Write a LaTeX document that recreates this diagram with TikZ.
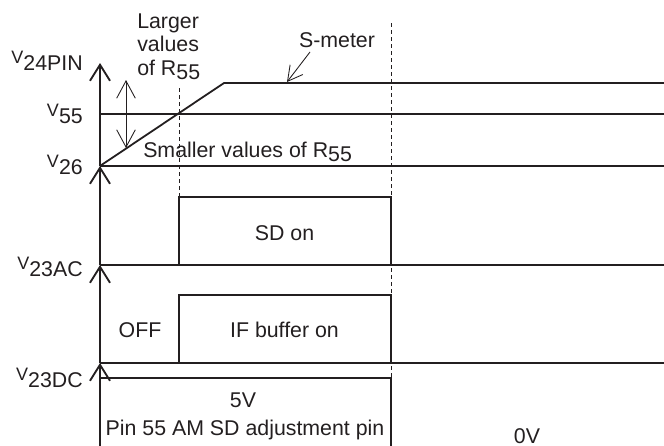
\documentclass[tikz,border=0pt]{standalone}
\usepackage{fontspec}
\setmainfont{Liberation Sans}
\usetikzlibrary{arrows.meta}
\newcommand{\vlab}[1]{{\fontsize{13.5}{14}\selectfont V}\raisebox{-5.6pt}{#1}}
\newcommand{\rsub}{R\raisebox{-3pt}{55}}
\definecolor{ink}{HTML}{231F20}
\begin{document}
\begin{tikzpicture}[x=0.75pt,y=-0.75pt, color=ink,
  sig/.style={line width=1.35pt, line cap=butt, line join=miter},
  axisarr/.style={line width=1.4pt, -{Straight Barb[length=12pt,width=15pt]}},
  dblarr/.style={line width=0.65pt, {Straight Barb[length=13pt,width=14pt]}-{Straight Barb[length=13pt,width=14pt]}},
  ptrarr/.style={line width=0.65pt, -{Straight Barb[length=11pt,width=12pt]}},
  dashline/.style={line width=0.65pt, dash pattern=on 3pt off 2.25pt},
  txt/.style={font=\fontsize{16}{19}\selectfont, inner sep=0pt, text=ink},
]
\useasboundingbox (0,0) rectangle (664,446);

% axis points
\coordinate (ax0) at (100,446);
\coordinate (ax1) at (100,363);
\coordinate (ax2) at (100,265);
\coordinate (ax3) at (100,166);
\coordinate (ax4) at (100,63);

% dashed guides
\coordinate (dl0) at (179,88);
\coordinate (dl1) at (179,197);
\coordinate (dr0) at (391,23);
\coordinate (dr1) at (391,378);
\draw[dashline] (dl0) -- (dl1);
\draw[dashline] (dr0) -- (dr1);

% axis with arrows
\draw[axisarr] (ax0) -- (ax1);
\draw[axisarr] (ax1) -- (ax2);
\draw[axisarr] (ax2) -- (ax3);
\draw[axisarr] (ax3) -- (ax4);

% S-meter ramp and levels
\coordinate (knee) at (224,83);
\coordinate (smE) at (664,83);
\coordinate (v55W) at (100,114);
\coordinate (v55E) at (664,114);
\coordinate (v26E) at (664,166);
\draw[sig] (ax3) -- (knee) -- (smE);
\draw[sig] (v55W) -- (v55E);
\draw[sig] (ax3) -- (v26E);

% SD on pulse
\coordinate (sdA) at (179,265);
\coordinate (sdB) at (179,197);
\coordinate (sdC) at (391,197);
\coordinate (sdD) at (391,265);
\coordinate (acE) at (664,265);
\draw[sig] (ax2) -- (acE);
\draw[sig] (sdA) -- (sdB) -- (sdC) -- (sdD);

% IF buffer pulse
\coordinate (ifA) at (179,363);
\coordinate (ifB) at (179,295);
\coordinate (ifC) at (391,295);
\coordinate (ifD) at (391,363);
\coordinate (dcE) at (664,363);
\draw[sig] (ax1) -- (dcE);
\draw[sig] (ifA) -- (ifB) -- (ifC) -- (ifD);

% 5V level
\coordinate (fvA) at (100,378);
\coordinate (fvB) at (391,378);
\coordinate (fvC) at (391,446);
\draw[sig] (fvA) -- (fvB) -- (fvC);

% R55 double arrow
\coordinate (daT) at (126,80);
\coordinate (daB) at (126,148);
\draw[dblarr] (daT) -- (daB);

% S-meter pointer
\coordinate (spS) at (310,52);
\coordinate (spE) at (287,82);
\draw[ptrarr] (spS) -- (spE);

% axis labels
\node[txt, anchor=base east] (l24) at (83,63.5) {\vlab{24PIN}};
\node[txt, anchor=base east] (l55) at (83,116) {\vlab{55}};
\node[txt, anchor=base east] (l26) at (83,167) {\vlab{26}};
\node[txt, anchor=base east] (l23ac) at (83,269.5) {\vlab{23AC}};
\node[txt, anchor=base east] (l23dc) at (83,380) {\vlab{23DC}};

% texts
\node[txt, anchor=base west] (larger) at (137,28) {Larger};
\node[txt, anchor=base west] (values) at (137,51.5) {values};
\node[txt, anchor=base west] (ofr) at (137,75) {of \rsub};
\node[txt, anchor=base] (smeter) at (337,47) {S-meter};
\node[txt, anchor=base west] (smaller) at (143,157) {Smaller values of \rsub};
\node[txt, anchor=base] (sdon) at (284.5,240) {SD on};
\node[txt, anchor=base] (off) at (140,337) {OFF};
\node[txt, anchor=base] (ifon) at (284.5,337) {IF buffer on};
\node[txt, anchor=base] (fivev) at (243,407) {5V};
\node[txt, anchor=base] (pin) at (245,435) {Pin 55 AM SD adjustment pin};
\node[txt, anchor=base] (zerov) at (527,443) {0V};
\end{tikzpicture}
\end{document}
